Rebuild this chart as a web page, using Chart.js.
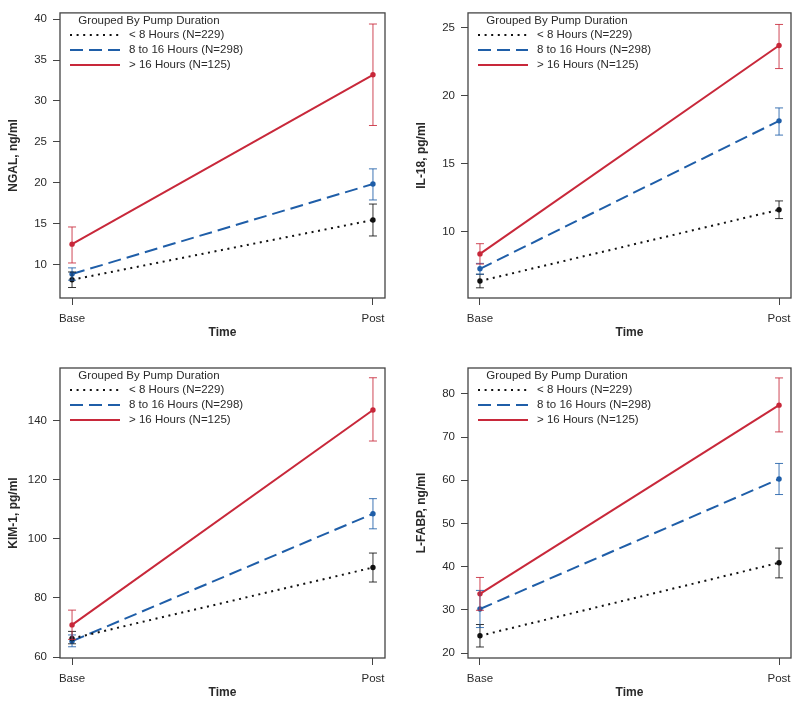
<!DOCTYPE html>
<html>
<head>
<meta charset="utf-8">
<script src="https://cdn.jsdelivr.net/npm/chart.js@4"></script>
<style>
  body { margin: 0; background: #fff; }
  #wrap { position: relative; width: 800px; height: 705px; }
  canvas { position: absolute; }
</style>
</head>
<body>
<div id="wrap">
  <canvas id="ngal" width="400" height="340" style="left:0;top:0"></canvas>
  <canvas id="il18" width="400" height="340" style="left:400px;top:0"></canvas>
  <canvas id="kim1" width="400" height="360" style="left:0;top:340px"></canvas>
  <canvas id="lfabp" width="400" height="360" style="left:400px;top:340px"></canvas>
</div>
<script>
// time points and groups
const timeLabels = ["Base", "Post"];
const legendTitle = "Grouped By Pump Duration";
const groupLabels = ["< 8 Hours (N=229)", "8 to 16 Hours (N=298)", "> 16 Hours (N=125)"];

// NGAL, ng/ml  (one row per group: <8, 8-16, >16)
const ngalMean  = [[8.15, 15.45], [8.85, 19.85], [12.5, 33.2]];
const ngalLower = [[7.2, 13.5], [8.1, 17.9], [10.2, 27.0]];
const ngalUpper = [[9.1, 17.4], [9.6, 21.7], [14.6, 39.4]];
const ngalTicks = [10, 15, 20, 25, 30, 35, 40];

// IL-18, pg/ml
const il18Mean  = [[6.35, 11.6], [7.25, 18.15], [8.35, 23.7]];
const il18Lower = [[5.85, 10.95], [6.85, 17.1], [7.6, 22.0]];
const il18Upper = [[6.85, 12.25], [7.65, 19.1], [9.1, 25.25]];
const il18Ticks = [10, 15, 20, 25];

// KIM-1, pg/ml
const kim1Mean  = [[66.3, 90.3], [65.4, 108.5], [70.9, 143.6]];
const kim1Lower = [[64.5, 85.4], [63.5, 103.4], [66.0, 133.1]];
const kim1Upper = [[68.7, 95.2], [67.5, 113.6], [75.9, 154.5]];
const kim1Ticks = [60, 80, 100, 120, 140];

// L-FABP, ng/ml
const lfabpMean  = [[24.0, 40.9], [30.2, 60.3], [33.7, 77.4]];
const lfabpLower = [[21.4, 37.4], [25.9, 56.7], [29.9, 71.2]];
const lfabpUpper = [[26.6, 44.3], [34.5, 63.9], [37.5, 83.7]];
const lfabpTicks = [20, 30, 40, 50, 60, 70, 80];

const groupColors = ["#111111", "#1f5ea8", "#c8283a"];
const groupDash = [[2, 4.6], [13, 6], []];
const FONT = "'Liberation Sans', Arial, sans-serif";
const FSIZE = 11.5;
const TEXT = "#2a2a2a";

// draws the frame, the error bars and the in-plot legend
const panelPlugin = {
  id: "panel",
  afterDatasetsDraw(chart) {
    const ctx = chart.ctx;
    const y = chart.scales.y;
    chart.data.datasets.forEach((ds, i) => {
      const meta = chart.getDatasetMeta(i);
      ctx.save();
      ctx.strokeStyle = ds.borderColor;
      ctx.globalAlpha = 0.85;
      ctx.lineWidth = 1;
      meta.data.forEach((pt, j) => {
        const lo = y.getPixelForValue(ds.errLo[j]);
        const hi = y.getPixelForValue(ds.errHi[j]);
        ctx.beginPath();
        ctx.moveTo(pt.x, lo); ctx.lineTo(pt.x, hi);
        ctx.moveTo(pt.x - 4, lo); ctx.lineTo(pt.x + 4, lo);
        ctx.moveTo(pt.x - 4, hi); ctx.lineTo(pt.x + 4, hi);
        ctx.stroke();
      });
      ctx.restore();
    });
  },
  afterDraw(chart) {
    const ctx = chart.ctx;
    const a = chart.chartArea;
    ctx.save();
    ctx.strokeStyle = "#444";
    ctx.lineWidth = 1.3;
    ctx.strokeRect(a.left, a.top, a.right - a.left, a.bottom - a.top);

    ctx.font = FSIZE + "px " + FONT;
    ctx.fillStyle = TEXT;
    ctx.textBaseline = "middle";
    ctx.textAlign = "center";
    ctx.fillText(legendTitle, a.left + 89, a.top + 7.5);
    ctx.textAlign = "left";
    chart.data.datasets.forEach((ds, i) => {
      const ly = a.top + 22 + i * 15;
      ctx.beginPath();
      ctx.strokeStyle = ds.borderColor;
      ctx.lineWidth = 2;
      ctx.setLineDash(ds.borderDash);
      ctx.moveTo(a.left + 10, ly);
      ctx.lineTo(a.left + 60, ly);
      ctx.stroke();
      ctx.setLineDash([]);
      ctx.fillText(ds.label, a.left + 69, ly);
    });
    ctx.restore();
  }
};

function makePanel(id, title, means, lower, upper, ticks, yMin, yMax, pad) {
  const datasets = groupLabels.map((label, g) => ({
    label: label,
    data: timeLabels.map((t, k) => ({ x: k + 1, y: means[g][k] })),
    errLo: lower[g],
    errHi: upper[g],
    borderColor: groupColors[g],
    backgroundColor: groupColors[g],
    borderDash: groupDash[g],
    borderWidth: 2,
    pointRadius: 2.7,
    pointBorderWidth: 0,
    pointBackgroundColor: groupColors[g]
  }));
  return new Chart(document.getElementById(id), {
    type: "line",
    data: { datasets: datasets },
    options: {
      responsive: false,
      animation: false,
      layout: { padding: pad },
      plugins: { legend: { display: false }, tooltip: { enabled: false } },
      scales: {
        x: {
          type: "linear",
          min: 0.96,
          max: 2.04,
          afterBuildTicks: s => { s.ticks = timeLabels.map((t, k) => ({ value: k + 1 })); },
          afterFit: s => { s.height = 42; },
          grid: { drawOnChartArea: false, tickLength: 7, color: "#444" },
          border: { display: false },
          ticks: {
            padding: 7,
            color: TEXT,
            font: { family: FONT, size: FSIZE },
            callback: v => timeLabels[v - 1]
          },
          title: {
            display: true,
            text: "Time",
            color: TEXT,
            font: { family: FONT, size: 12, weight: "bold" },
            padding: { top: 0, bottom: 0 }
          }
        },
        y: {
          min: yMin,
          max: yMax,
          afterBuildTicks: s => { s.ticks = ticks.map(v => ({ value: v })); },
          afterFit: s => { s.width = 60; },
          grid: { drawOnChartArea: false, tickLength: 7, color: "#444" },
          border: { display: false },
          ticks: {
            padding: 6,
            color: TEXT,
            font: { family: FONT, size: FSIZE }
          },
          title: {
            display: true,
            text: title,
            color: TEXT,
            font: { family: FONT, size: 12, weight: "bold" },
            padding: { top: 6, bottom: 0 }
          }
        }
      }
    },
    plugins: [panelPlugin]
  });
}

makePanel("ngal", "NGAL, ng/ml", ngalMean, ngalLower, ngalUpper, ngalTicks, 5.92, 40.76,
  { left: 0, right: 15, top: 7, bottom: 0 });
makePanel("il18", "IL-18, pg/ml", il18Mean, il18Lower, il18Upper, il18Ticks, 5.1, 26.1,
  { left: 8, right: 9, top: 7, bottom: 0 });
makePanel("kim1", "KIM-1, pg/ml", kim1Mean, kim1Lower, kim1Upper, kim1Ticks, 59.7, 157.8,
  { left: 0, right: 15, top: 28, bottom: 0 });
makePanel("lfabp", "L-FABP, ng/ml", lfabpMean, lfabpLower, lfabpUpper, lfabpTicks, 18.85, 86.0,
  { left: 8, right: 9, top: 28, bottom: 0 });
</script>
</body>
</html>
